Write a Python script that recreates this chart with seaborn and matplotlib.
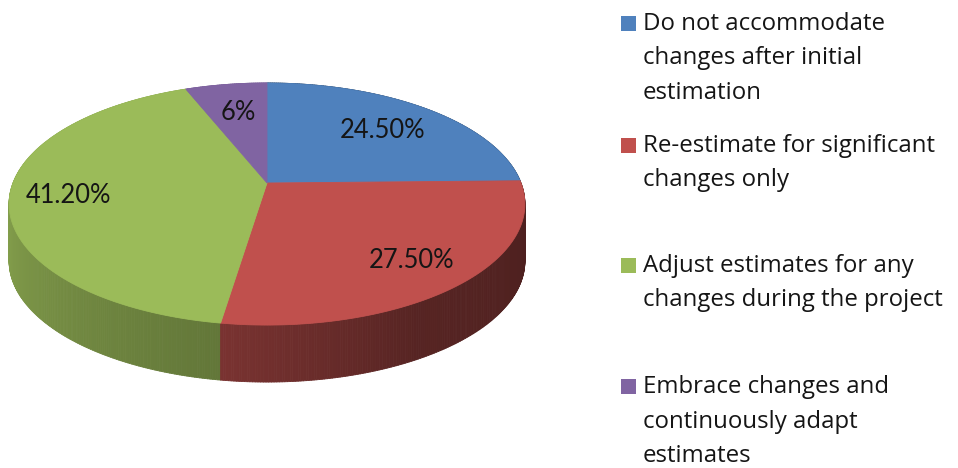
import numpy as np
import matplotlib
matplotlib.use("Agg")
import matplotlib.pyplot as plt
from matplotlib.collections import PolyCollection
from matplotlib.patches import Polygon, Rectangle
import seaborn as sns

# --- data -------------------------------------------------------------
categories = [
    "Do not accommodate\nchanges after initial\nestimation",
    "Re-estimate for significant\nchanges only",
    "Adjust estimates for any\nchanges during the project",
    "Embrace changes and\ncontinuously adapt\nestimates",
]
shares = [24.5, 27.5, 41.2, 6.0]
slice_colors = ["#4F81BD", "#C0504D", "#9BBB59", "#8064A2"]

# --- style ------------------------------------------------------------
sns.set_theme(style="white")
plt.rcParams["font.family"] = ["Lato", "DejaVu Sans"]
palette = sns.color_palette(slice_colors)

W, H = 958, 468
fig = plt.figure(figsize=(W / 100, H / 100), dpi=100)
ax = fig.add_axes([0, 0, 1, 1])
ax.set_xlim(0, W)
ax.set_ylim(H, 0)
ax.axis("off")

# --- 3-D pie geometry (pixel units) ------------------------------------
CX, CY = 267, 183      # projected centre of the top face
R, RY = 254, 117.4     # horizontal / vertical scale of the disc
K = 0.1736             # perspective strength
DEPTH = 57             # thickness of the pie
label_r = [0.70, 0.77, 0.78, 0.70]


def project(r, theta):
    """theta: clockwise angle from 12 o'clock (radians)."""
    u = r * np.sin(theta)
    v = r * np.cos(theta)
    s = 1.0 / (1.0 + K * v)
    return CX + R * u * s, CY - RY * v * s


def side_shade(theta_deg):
    return np.interp(theta_deg, [90, 150, 190, 270], [0.39, 0.45, 0.64, 0.88])


fractions = np.asarray(shares) / np.sum(shares)
bounds = np.concatenate([[0], np.cumsum(fractions)]) * 2 * np.pi

# side walls: thin strips, painted back to front
strips, strip_cols, strip_y = [], [], []
for i, col in enumerate(palette):
    t0, t1 = bounds[i], bounds[i + 1]
    n = max(2, int(np.degrees(t1 - t0) / 0.5))
    ts = np.linspace(t0, t1, n + 1)
    for a, b in zip(ts[:-1], ts[1:]):
        xa, ya = project(1, a)
        xb, yb = project(1, b)
        strips.append([(xa, ya), (xb, yb), (xb, yb + DEPTH), (xa, ya + DEPTH)])
        f = side_shade(np.degrees((a + b) / 2))
        strip_cols.append(tuple(np.clip(np.array(col) * f, 0, 1)))
        strip_y.append((ya + yb) / 2)
order = np.argsort(strip_y)
ax.add_collection(PolyCollection([strips[k] for k in order],
                                 facecolors=[strip_cols[k] for k in order],
                                 edgecolors=[strip_cols[k] for k in order],
                                 linewidths=0.6))

# top face
for i, col in enumerate(palette):
    ts = np.linspace(bounds[i], bounds[i + 1], 200)
    xs, ys = project(1, ts)
    pts = [(CX, CY)] + list(zip(xs, ys))
    ax.add_patch(Polygon(pts, closed=True, facecolor=col, edgecolor=col, lw=0.6))

# value labels
for i, v in enumerate(shares):
    mid = (bounds[i] + bounds[i + 1]) / 2
    x, y = project(label_r[i], mid)
    txt = f"{v:.2f}%" if v % 1 else f"{v:g}%"
    ax.text(x + 1, y + 9, txt, ha="center", va="baseline", fontsize=18.4,
            color="#151515")

# legend
first_baselines = [30, 152, 272, 393]
LINE = 34.5
for i, (lab, col) in enumerate(zip(categories, palette)):
    b = first_baselines[i]
    ax.add_patch(Rectangle((621, b - 14), 15, 15, facecolor=col, edgecolor="none"))
    for j, line in enumerate(lab.split("\n")):
        ax.text(643, b + j * LINE, line, ha="left", va="baseline",
                fontsize=17.3, color="#151515",
                family=["Open Sans", "DejaVu Sans"])

fig.savefig("out.png", dpi=100, facecolor="white")
